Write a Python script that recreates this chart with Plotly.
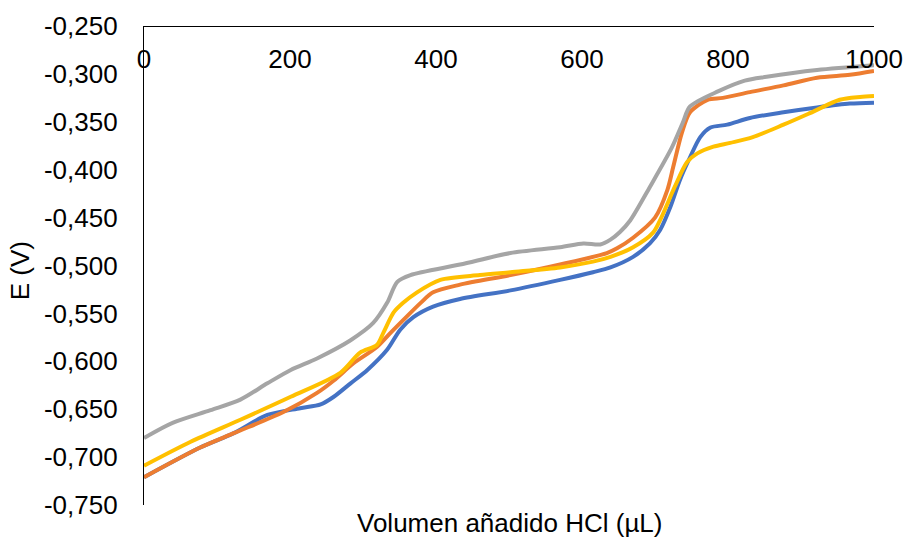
import plotly.graph_objects as go

vol_blue = [0, 77, 123, 169, 214, 242, 260, 283, 306, 333, 351, 369, 396, 433, 502, 570, 615, 639, 670, 693, 707, 721, 734, 748, 762, 776, 799, 830, 876, 922, 967, 1000]
E_blue = [-0.721, -0.690, -0.675, -0.656, -0.649, -0.645, -0.637, -0.623, -0.609, -0.588, -0.567, -0.554, -0.543, -0.535, -0.526, -0.515, -0.507, -0.502, -0.491, -0.477, -0.463, -0.439, -0.411, -0.387, -0.366, -0.356, -0.353, -0.346, -0.340, -0.335, -0.331, -0.330]

vol_orange = [0, 77, 123, 191, 237, 260, 287, 319, 338, 355, 379, 396, 433, 502, 570, 634, 648, 670, 700, 717, 725, 737, 748, 772, 793, 830, 876, 922, 967, 1000]
E_orange = [-0.721, -0.690, -0.675, -0.653, -0.633, -0.620, -0.602, -0.585, -0.570, -0.557, -0.539, -0.528, -0.520, -0.510, -0.499, -0.487, -0.482, -0.471, -0.450, -0.421, -0.397, -0.361, -0.340, -0.327, -0.325, -0.319, -0.312, -0.304, -0.301, -0.297]

vol_gray = [0, 40, 91, 132, 169, 201, 237, 283, 314, 333, 347, 365, 433, 502, 570, 602, 625, 639, 652, 666, 693, 723, 738, 748, 787, 823, 853, 922, 1000]
E_gray = [-0.680, -0.664, -0.651, -0.640, -0.623, -0.609, -0.597, -0.578, -0.560, -0.539, -0.517, -0.510, -0.499, -0.487, -0.481, -0.477, -0.478, -0.473, -0.465, -0.453, -0.418, -0.377, -0.351, -0.334, -0.318, -0.307, -0.303, -0.296, -0.291]

vol_yellow = [0, 64, 132, 201, 269, 296, 319, 328, 342, 355, 374, 406, 460, 502, 570, 615, 639, 670, 697, 708, 727, 744, 758, 780, 803, 834, 876, 912, 953, 981, 1000]
E_yellow = [-0.709, -0.684, -0.661, -0.637, -0.612, -0.591, -0.583, -0.570, -0.549, -0.539, -0.528, -0.515, -0.510, -0.507, -0.502, -0.496, -0.491, -0.481, -0.466, -0.451, -0.418, -0.392, -0.383, -0.376, -0.372, -0.366, -0.353, -0.341, -0.327, -0.324, -0.323]

y_tickvals = [-0.75, -0.70, -0.65, -0.60, -0.55, -0.50, -0.45, -0.40, -0.35, -0.30, -0.25]
y_ticktext = ["-0,750", "-0,700", "-0,650", "-0,600", "-0,550", "-0,500", "-0,450", "-0,400", "-0,350", "-0,300", "-0,250"]
x_tickvals = [0, 200, 400, 600, 800, 1000]
x_ticktext = ["0", "200", "400", "600", "800", "1000"]

FONT = "Liberation Sans, Arial, sans-serif"
FS = 26

series = [
    (vol_blue, E_blue, "#4472C4"),
    (vol_orange, E_orange, "#ED7D31"),
    (vol_gray, E_gray, "#A5A5A5"),
    (vol_yellow, E_yellow, "#FFC000"),
]

fig = go.Figure()
for xs, ys, col in series:
    fig.add_trace(go.Scatter(x=xs, y=ys, mode="lines",
                             line=dict(color=col, width=4, shape="spline", smoothing=0.8),
                             showlegend=False, hoverinfo="skip", cliponaxis=False))

fig.update_layout(
    width=907, height=540,
    margin=dict(l=144, r=33, t=26, b=35),
    paper_bgcolor="white", plot_bgcolor="white",
    font=dict(family=FONT, size=FS, color="black"),
    xaxis=dict(range=[0, 1000], tickvals=x_tickvals, ticktext=x_ticktext,
               showgrid=False, zeroline=False, showline=True, linecolor="black", linewidth=1.3,
               ticks="", anchor="free", position=1, side="bottom", ticklabelstandoff=10,
               automargin=False),
    yaxis=dict(range=[-0.75, -0.25], tickvals=y_tickvals, ticktext=y_ticktext,
               showgrid=False, zeroline=False, showline=True, linecolor="black", linewidth=1.3,
               ticks="", ticklabelstandoff=20, automargin=False),
    annotations=[
        dict(text="Volumen añadido HCl (µL)", xref="paper", yref="paper", x=0.5, y=-0.0376,
             xanchor="center", yanchor="middle", showarrow=False, font=dict(size=FS)),
        dict(text="E (V)", xref="paper", yref="paper", x=-0.1699, y=0.49, textangle=-90,
             xanchor="center", yanchor="middle", showarrow=False, font=dict(size=FS)),
    ],
)

fig.write_html("out.html", config={"displayModeBar": False},
               post_script="document.body.style.margin='0';document.body.style.padding='0';")
